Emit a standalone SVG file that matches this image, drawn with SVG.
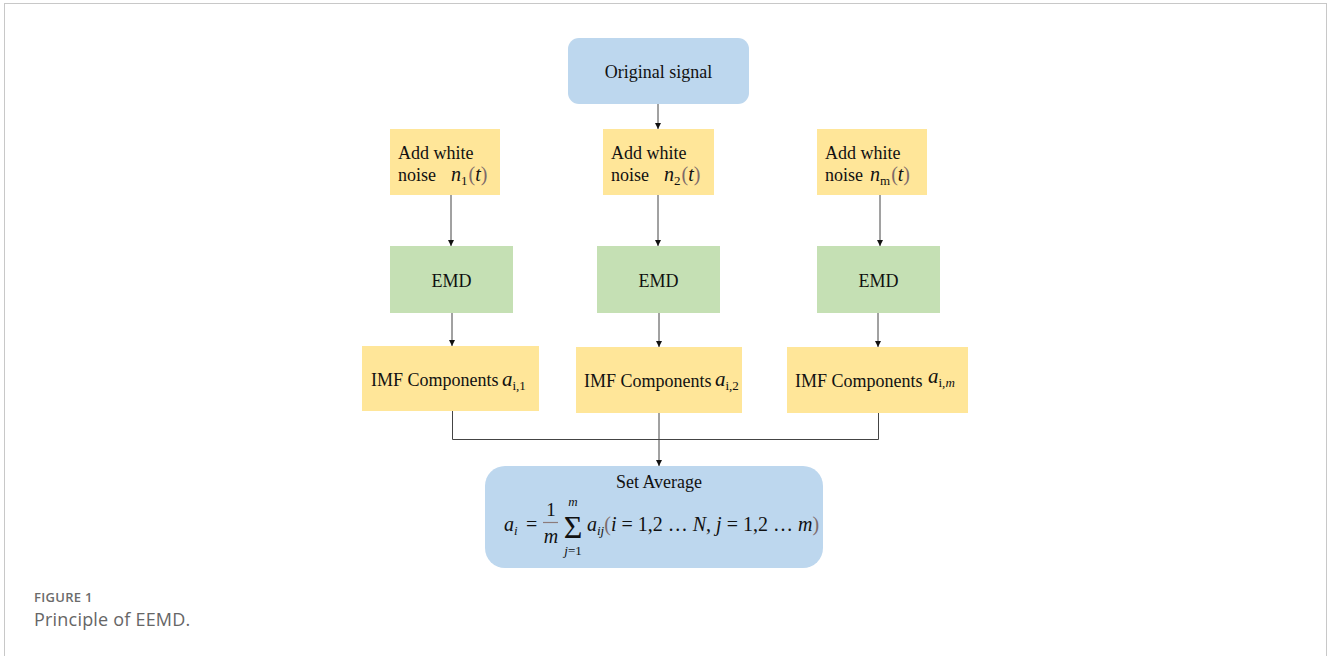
<svg xmlns="http://www.w3.org/2000/svg" width="1328" height="656" viewBox="0 0 1328 656">
<defs>
<style>
.t{font-family:"Liberation Serif","Times New Roman",serif;font-size:18px;fill:#111}
.m{font-family:"Liberation Serif","Times New Roman",serif;font-style:italic;font-size:20px;fill:#111}
.u{font-style:normal}
.p{fill:#7d6a6a;font-style:normal}
.blue{fill:#BDD7EE}
.yel{fill:#FFE699}
.grn{fill:#C5E0B4}
.ln{stroke:#444;stroke-width:1;fill:none}
</style>
<marker id="ah" viewBox="0 0 10 10" refX="10" refY="5" markerWidth="6" markerHeight="7" markerUnits="userSpaceOnUse" orient="auto">
<path d="M0,0 L10,5 L0,10 z" fill="#111"/>
</marker>
</defs>
<rect x="0" y="0" width="1328" height="656" fill="#fff"/>
<rect x="4.5" y="3.5" width="1322" height="680" fill="none" stroke="#c8c8c8" stroke-width="1"/>

<g id="connectors">
<line class="ln" x1="658" y1="103" x2="658" y2="129" marker-end="url(#ah)"/>
<line class="ln" x1="451" y1="195" x2="451" y2="246" marker-end="url(#ah)"/>
<line class="ln" x1="658" y1="195" x2="658" y2="246" marker-end="url(#ah)"/>
<line class="ln" x1="880" y1="195" x2="880" y2="246" marker-end="url(#ah)"/>
<line class="ln" x1="452" y1="313" x2="452" y2="346" marker-end="url(#ah)"/>
<line class="ln" x1="659" y1="313" x2="659" y2="347" marker-end="url(#ah)"/>
<line class="ln" x1="878" y1="313" x2="878" y2="347" marker-end="url(#ah)"/>
<path class="ln" d="M452.5,411 V439.5 H878.5 V413"/>
<line class="ln" x1="659" y1="413" x2="659" y2="466" marker-end="url(#ah)"/>
</g>

<g id="original">
<rect class="blue" x="568" y="38" width="181" height="66" rx="11"/>
<text class="t" x="658.5" y="78" text-anchor="middle">Original signal</text>
</g>

<g id="noise1">
<rect class="yel" x="390" y="129" width="110" height="66"/>
<text class="t" x="398" y="159">Add white</text>
<text class="t" x="398" y="181">noise</text>
<text class="m" x="451" y="181">n<tspan class="u" font-size="13" dy="4">1</tspan><tspan class="p" dy="-4" dx="1">(</tspan>t<tspan class="p">)</tspan></text>
</g>
<g id="noise2">
<rect class="yel" x="603" y="129" width="111" height="66"/>
<text class="t" x="611" y="159">Add white</text>
<text class="t" x="611" y="181">noise</text>
<text class="m" x="664" y="181">n<tspan class="u" font-size="13" dy="4">2</tspan><tspan class="p" dy="-4" dx="1">(</tspan>t<tspan class="p">)</tspan></text>
</g>
<g id="noise3">
<rect class="yel" x="817" y="129" width="110" height="66"/>
<text class="t" x="825" y="159">Add white</text>
<text class="t" x="825" y="181">noise</text>
<text class="m" x="870" y="181">n<tspan class="u" font-size="13" dy="4">m</tspan><tspan class="p" dy="-4" dx="1">(</tspan>t<tspan class="p">)</tspan></text>
</g>

<g id="emd1">
<rect class="grn" x="390" y="246" width="123" height="67"/>
<text class="t" x="451.5" y="287" text-anchor="middle">EMD</text>
</g>
<g id="emd2">
<rect class="grn" x="597" y="246" width="123" height="67"/>
<text class="t" x="658.5" y="287" text-anchor="middle">EMD</text>
</g>
<g id="emd3">
<rect class="grn" x="817" y="246" width="123" height="67"/>
<text class="t" x="878.5" y="287" text-anchor="middle">EMD</text>
</g>

<g id="imf1">
<rect class="yel" x="362" y="346" width="177" height="65"/>
<text class="t" x="371" y="386">IMF Components</text>
<text class="m" x="502" y="386" style="font-size:21px">a<tspan class="u" font-size="13" dy="4">i,1</tspan></text>
</g>
<g id="imf2">
<rect class="yel" x="576" y="347" width="166" height="66"/>
<text class="t" x="584" y="387">IMF Components</text>
<text class="m" x="715" y="386" style="font-size:21px">a<tspan class="u" font-size="13" dy="4">i,2</tspan></text>
</g>
<g id="imf3">
<rect class="yel" x="787" y="347" width="181" height="66"/>
<text class="t" x="795" y="387">IMF Components</text>
<text class="m" x="928" y="383" style="font-size:21px">a<tspan class="u" font-size="13" dy="4">i,</tspan><tspan font-size="13">m</tspan></text>
</g>

<g id="average">
<rect class="blue" x="485" y="466" width="338" height="102" rx="20"/>
<text class="t" x="659" y="488" text-anchor="middle">Set Average</text>
<text class="m" x="504" y="531">a<tspan font-size="13" dy="4">i</tspan></text>
<text class="t" x="526" y="531" style="font-size:20px">=</text>
<text class="t" x="551" y="516" style="font-size:19px" text-anchor="middle">1</text>
<line x1="543" y1="522.5" x2="558" y2="522.5" stroke="#8c7b7b" stroke-width="1.2"/>
<text class="m" x="551" y="543" text-anchor="middle">m</text>
<text class="t" x="573" y="538" style="font-size:32px" text-anchor="middle">Σ</text>
<text class="m" x="573" y="506" style="font-size:13px" text-anchor="middle">m</text>
<text class="m" x="573" y="555" style="font-size:13px" text-anchor="middle">j<tspan class="u">=1</tspan></text>
<text class="m" x="587" y="531">a<tspan font-size="13" dy="4">ij</tspan><tspan class="p" dy="-4">(</tspan>i <tspan class="u">= 1,2 … </tspan>N<tspan class="u">, </tspan>j <tspan class="u">= 1,2 … </tspan>m<tspan class="p">)</tspan></text>
</g>

<g id="caption">
<text x="34" y="602" font-family="'Open Sans',sans-serif" font-size="13" font-weight="600" fill="#6b6b6b" letter-spacing="0.3">FIGURE 1</text>
<text x="34" y="626" font-family="'Open Sans',sans-serif" font-size="18" fill="#666" letter-spacing="0.2">Principle of EEMD.</text>
</g>
</svg>
